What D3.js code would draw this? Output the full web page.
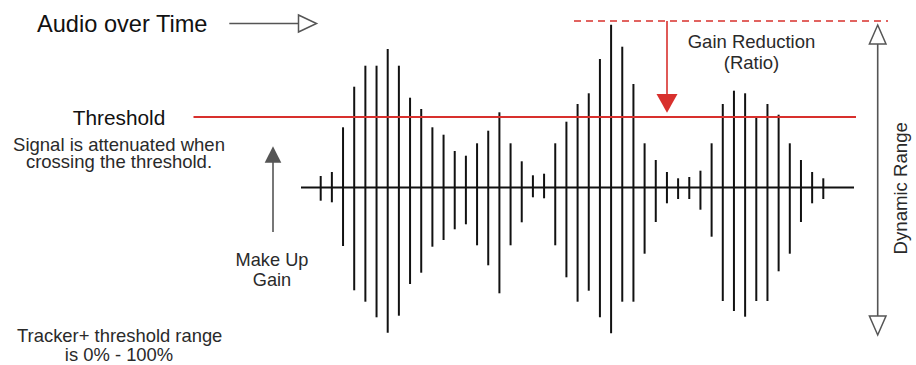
<!DOCTYPE html>
<html>
<head>
<meta charset="utf-8">
<script src="https://cdn.jsdelivr.net/npm/d3@7"></script>
<style>
  html, body { margin: 0; padding: 0; background: #fff; }
  svg { display: block; }
  text { font-family: "Liberation Sans", Arial, Helvetica, sans-serif; }
</style>
</head>
<body>
<svg id="chart" width="916" height="365"></svg>
<script>
// ---- data (amplitude units; 0 = signal baseline) ----
const barIndex = d3.range(46);
const barUp = [11.5, 15.5, 60.2, 100.8, 121.8, 121.8, 138.5, 121.8, 89.8, 78.5,
  60.2, 52.8, 36.5, 31.8, 44.2, 56.8, 75.2, 44.2, 26.2, 12.2,
  13.8, 44.2, 65.8, 83.5, 94.2, 128.5, 162.8, 140.8, 103.5, 44.2,
  27.5, 15.5, 9.2, 10.5, 16.8, 44.2, 83.5, 96.8, 94.2, 70.8,
  83.5, 72.8, 44.2, 27.5, 15.5, 9.2];
const barDown = [13.2, 14.8, 58.5, 102.8, 114.2, 129.8, 145.2, 128.2, 96.5, 85.2,
  59.2, 52.5, 41.8, 36.8, 57.8, 77.8, 105.8, 57.8, 34.8, 9.8,
  10.8, 57.8, 89.8, 114.2, 103.2, 129.8, 145.8, 114.2, 114.2, 66.2,
  34.5, 15.8, 11.5, 11.5, 22.2, 49.2, 113.5, 123.5, 129.2, 113.5,
  113.5, 83.8, 66.2, 34.5, 15.8, 11.5];
const thresholdLevel = 70.5;
const peakLevel = 166.5;
const dynamicRangeTop = 162.5;
const dynamicRangeBottom = -147.5;

const labelTitle = "Audio over Time";
const labelThreshold = "Threshold";
const labelThresholdNote = ["Signal is attenuated when", "crossing the threshold."];
const labelMakeUp = ["Make Up", "Gain"];
const labelRange = ["Tracker+ threshold range", "is 0% - 100%"];
const labelGainRed = ["Gain Reduction", "(Ratio)"];
const labelDynamic = "Dynamic Range";

// ---- drawing ----
const svg = d3.select("#chart");
const RED = "#d8302d";
const GREY = "#555555";
const TEXT = "#2a2a2a";

const x = d3.scaleLinear().domain([0, 45]).range([320.7, 823.3]);
const y = d3.scaleLinear().domain([-peakLevel, peakLevel]).range([354, 21]);

// baseline
svg.append("line")
  .attr("x1", 301).attr("x2", 854)
  .attr("y1", y(0)).attr("y2", y(0))
  .attr("stroke", "#111").attr("stroke-width", 2);

// bars
svg.append("g").selectAll("line")
  .data(barIndex)
  .join("line")
  .attr("x1", i => x(i)).attr("x2", i => x(i))
  .attr("y1", i => y(barUp[i])).attr("y2", i => y(-barDown[i]))
  .attr("stroke", "#111").attr("stroke-width", 2);

// threshold line
svg.append("line")
  .attr("x1", 193.5).attr("x2", 856)
  .attr("y1", y(thresholdLevel)).attr("y2", y(thresholdLevel))
  .attr("stroke", RED).attr("stroke-width", 2);

// peak dashed line
svg.append("line")
  .attr("x1", 574).attr("x2", 888)
  .attr("y1", y(peakLevel)).attr("y2", y(peakLevel))
  .attr("stroke", RED).attr("stroke-width", 1.6)
  .attr("stroke-dasharray", "7,5");

// gain reduction arrow
const grX = 667;
svg.append("line")
  .attr("x1", grX).attr("x2", grX)
  .attr("y1", y(peakLevel)).attr("y2", 96)
  .attr("stroke", RED).attr("stroke-width", 1.6);
svg.append("path")
  .attr("d", `M${grX - 10.5},94 L${grX + 10.5},94 L${grX},112.8 Z`)
  .attr("fill", RED);

// dynamic range arrow
const drX = 877.7;
const yTop = y(dynamicRangeTop), yBot = y(dynamicRangeBottom);
svg.append("line")
  .attr("x1", drX).attr("x2", drX)
  .attr("y1", yTop + 19).attr("y2", yBot - 19)
  .attr("stroke", GREY).attr("stroke-width", 1.6);
svg.append("path")
  .attr("d", `M${drX},${yTop} L${drX + 8.3},${yTop + 19} L${drX - 8.3},${yTop + 19} Z`)
  .attr("fill", "#fff").attr("stroke", GREY).attr("stroke-width", 1.5);
svg.append("path")
  .attr("d", `M${drX},${yBot} L${drX + 8.3},${yBot - 19} L${drX - 8.3},${yBot - 19} Z`)
  .attr("fill", "#fff").attr("stroke", GREY).attr("stroke-width", 1.5);

// time arrow
svg.append("line")
  .attr("x1", 229.3).attr("x2", 298.5)
  .attr("y1", 23.5).attr("y2", 23.5)
  .attr("stroke", GREY).attr("stroke-width", 1.5);
svg.append("path")
  .attr("d", "M298.5,15 L316.5,23.5 L298.5,32 Z")
  .attr("fill", "#fff").attr("stroke", GREY).attr("stroke-width", 1.5);

// make-up gain arrow
const muX = 273;
svg.append("line")
  .attr("x1", muX).attr("x2", muX)
  .attr("y1", 160).attr("y2", 232)
  .attr("stroke", GREY).attr("stroke-width", 1.6);
svg.append("path")
  .attr("d", `M${muX},146.3 L${muX + 8.3},162.8 L${muX - 8.3},162.8 Z`)
  .attr("fill", GREY);

// texts
function txt(str, tx, ty, size, anchor, color) {
  return svg.append("text")
    .attr("x", tx).attr("y", ty)
    .attr("font-size", size)
    .attr("text-anchor", anchor || "middle")
    .attr("fill", color || TEXT)
    .text(str);
}
txt(labelTitle, 37, 32.3, 23.6, "start", "#111");
txt(labelThreshold, 119, 125, 20.8, "middle", "#111");
txt(labelThresholdNote[0], 119, 150.7, 18.5);
txt(labelThresholdNote[1], 119, 167.5, 18.5);
txt(labelMakeUp[0], 272, 265.7, 18.2);
txt(labelMakeUp[1], 272, 286, 18.2);
txt(labelRange[0], 119.7, 341.7, 18.4);
txt(labelRange[1], 119, 361, 18.4);
txt(labelGainRed[0], 751.5, 48.3, 18.5);
txt(labelGainRed[1], 751.5, 69.3, 18.5);
svg.append("text")
  .attr("transform", "translate(907.3,188.3) rotate(-90)")
  .attr("font-size", 18.6)
  .attr("text-anchor", "middle")
  .attr("fill", TEXT)
  .text(labelDynamic);
</script>
</body>
</html>
